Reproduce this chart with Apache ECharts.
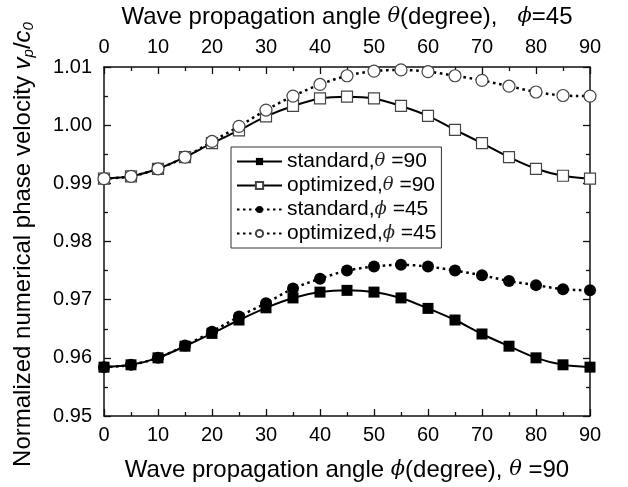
<!DOCTYPE html>
<html lang="en">
<head>
  <meta charset="UTF-8">
  <title>Normalized phase velocity</title>
  <script src="https://cdn.jsdelivr.net/npm/echarts@6/dist/echarts.min.js"></script>
  <style>
    html, body { margin: 0; padding: 0; background: #fff; }
    #chart { width: 628px; height: 487px; }
  </style>
</head>
<body>
  <div id="chart"></div>
<script>
  // angle (degrees) shared by all four curves
  const angles = [0, 5, 10, 15, 20, 25, 30, 35, 40, 45, 50, 55, 60, 65, 70, 75, 80, 85, 90];

  const stdTheta90 = [0.9584, 0.9588, 0.9600, 0.9620, 0.9642, 0.9665, 0.9686, 0.9703, 0.9713, 0.9716,
    0.9713, 0.9703, 0.9685, 0.9665, 0.9641, 0.9620, 0.9600, 0.9588, 0.9584];
  const optTheta90 = [0.9908, 0.9912, 0.9925, 0.9945, 0.9969, 0.9991, 1.0015, 1.0033, 1.0046, 1.0049,
    1.0046, 1.0033, 1.0016, 0.9992, 0.9969, 0.9945, 0.9925, 0.9913, 0.9908];
  const stdPhi45 = [0.9584, 0.9588, 0.9600, 0.9621, 0.9645, 0.9671, 0.9694, 0.9719, 0.9736, 0.9750,
    0.9757, 0.9760, 0.9757, 0.9750, 0.9742, 0.9732, 0.9725, 0.9718, 0.9716];
  const optPhi45 = [0.9908, 0.9912, 0.9925, 0.9945, 0.9972, 0.9998, 1.0026, 1.0050, 1.0070, 1.0085,
    1.0093, 1.0095, 1.0092, 1.0085, 1.0077, 1.0067, 1.0057, 1.0051, 1.0050];

  const legendText = {
    stdTheta: 'standard,{g|θ} =90',
    optTheta: 'optimized,{g|θ} =90',
    stdPhi: 'standard,{g|ϕ} =45',
    optPhi: 'optimized,{g|ϕ} =45'
  };

  const font = 'Liberation Sans, Arial, sans-serif';
  const greek = { fontFamily: 'DejaVu Serif, serif', fontStyle: 'italic', fontSize: 18, color: '#222', lineHeight: 20 };

  const pairs = (ys) => angles.map((a, i) => [a, ys[i]]);

  const axisLine = { show: true, onZero: false, lineStyle: { color: '#111', width: 1.5 } };
  const tick = { show: true, inside: true, length: 7, lineStyle: { color: '#111', width: 1.3 } };
  const minor = { show: true, splitNumber: 2, length: 4, lineStyle: { color: '#111', width: 1.3 } };

  const nameRich = {
    n: { fontFamily: font, fontSize: 24, color: '#000', lineHeight: 26 },
    g: { fontFamily: 'DejaVu Serif, serif', fontStyle: 'italic', fontSize: 21, color: '#000', lineHeight: 26 }
  };

  // the rotated y title is drawn a bit larger than the horizontal ones
  const yNameRich = {
    n: { fontFamily: font, fontSize: 24, color: '#000', lineHeight: 26 },
    i: { fontFamily: font, fontStyle: 'italic', fontSize: 24, color: '#000', lineHeight: 26 },
    s: { fontFamily: font, fontStyle: 'italic', fontSize: 15, color: '#000', lineHeight: 15, verticalAlign: 'bottom' }
  };

  const xCommon = {
    type: 'value', min: 0, max: 90, interval: 10,
    axisLine, axisTick: tick, minorTick: minor,
    splitLine: { show: false },
    nameLocation: 'middle'
  };

  const chart = echarts.init(document.getElementById('chart'), null, { renderer: 'canvas' });

  chart.setOption({
    animation: false,
    backgroundColor: '#fff',
    grid: { left: 104, right: 38, top: 61, bottom: 69 },
    legend: {
      orient: 'vertical',
      left: 231, top: 147,
      itemWidth: 45, itemHeight: 9, itemGap: 3,
      padding: [4, 5, 4, 5],
      borderColor: '#333', borderWidth: 1,
      backgroundColor: '#fff',
      data: ['stdTheta', 'optTheta', 'stdPhi', 'optPhi'],
      formatter: (name) => legendText[name],
      textStyle: {
        fontFamily: font, fontSize: 21, color: '#000', lineHeight: 20,
        rich: { g: greek }
      }
    },
    xAxis: [
      {
        ...xCommon,
        position: 'bottom',
        name: '{n|Wave propagation angle }{g|ϕ}{n|(degree), }{g|θ}{n| =90}',
        nameGap: 41,
        nameTextStyle: { rich: nameRich },
        axisLabel: { fontFamily: font, fontSize: 20, color: '#000', margin: 9 }
      },
      {
        ...xCommon,
        position: 'top',
        name: '{n|Wave propagation angle }{g|θ}{n|(degree),   }{g|ϕ}{n|=45}',
        nameGap: 37,
        nameTextStyle: { rich: nameRich },
        axisLabel: { fontFamily: font, fontSize: 20, color: '#000', margin: 10 }
      }
    ],
    yAxis: [
      {
        type: 'value', min: 0.95, max: 1.01, interval: 0.01,
        position: 'left',
        axisLine, axisTick: tick, minorTick: minor,
        splitLine: { show: false },
        axisLabel: {
          fontFamily: font, fontSize: 20, color: '#000', margin: 12,
          formatter: (v) => v.toFixed(2)
        },
        name: '{n|Normalized numerical phase velocity }{i|v}{s|p}{n|/}{i|c}{s|0}',
        nameLocation: 'middle',
        nameGap: 68,
        nameRotate: 90,
        nameTextStyle: { padding: [0, 6, 0, 0], rich: yNameRich }
      },
      {
        type: 'value', min: 0.95, max: 1.01, interval: 0.01,
        position: 'right',
        axisLine, axisTick: tick, minorTick: minor,
        splitLine: { show: false },
        axisLabel: { show: false }
      }
    ],
    series: [
      {
        name: 'stdTheta', type: 'line', smooth: 0.3,
        data: pairs(stdTheta90),
        symbol: 'rect', symbolSize: 11,
        itemStyle: { color: '#000' },
        lineStyle: { color: '#000', width: 2 }
      },
      {
        name: 'optTheta', type: 'line', smooth: 0.3,
        data: pairs(optTheta90),
        symbol: 'rect', symbolSize: 11,
        itemStyle: { color: '#fff', borderColor: '#444', borderWidth: 1.2 },
        lineStyle: { color: '#000', width: 2 }
      },
      {
        name: 'stdPhi', type: 'line', smooth: 0.3,
        data: pairs(stdPhi45),
        symbol: 'circle', symbolSize: 12,
        itemStyle: { color: '#000' },
        lineStyle: { color: '#000', width: 2.5, type: [2.5, 3.5] }
      },
      {
        name: 'optPhi', type: 'line', smooth: 0.3,
        data: pairs(optPhi45),
        symbol: 'circle', symbolSize: 12,
        itemStyle: { color: '#fff', borderColor: '#444', borderWidth: 1.2 },
        lineStyle: { color: '#000', width: 2.5, type: [2.5, 3.5] }
      }
    ]
  });
</script>
</body>
</html>
